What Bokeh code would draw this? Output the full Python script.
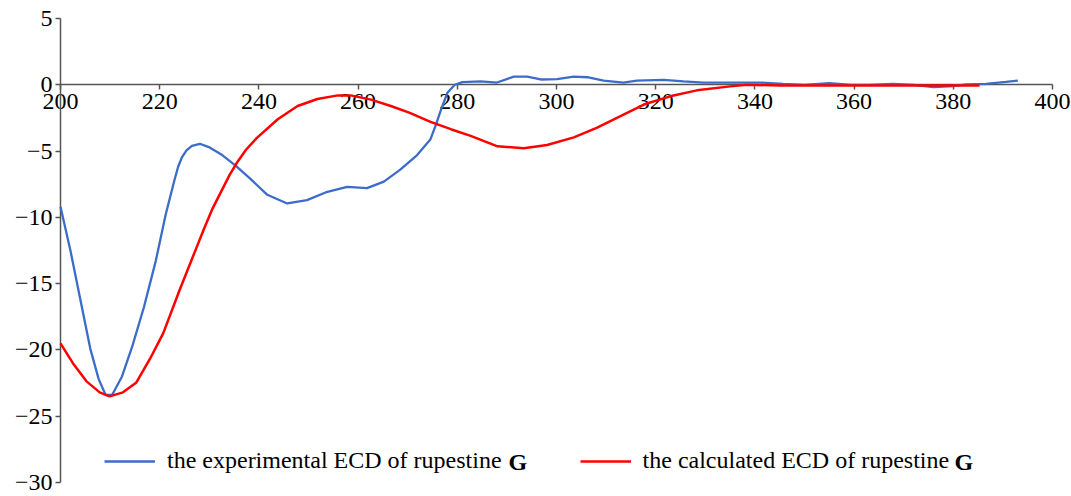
from bokeh.plotting import figure
from bokeh.models import FixedTicker, Legend, LegendItem, Label, Range1d
from bokeh.embed import file_html
from bokeh.resources import INLINE

# experimental ECD (blue)
exp_x = [200, 202, 204, 206, 207.7, 209.1, 210.4, 212.4, 214.5, 216.8, 219.2, 221.2,
         222.9, 223.7, 224.5, 225.4, 226.5, 228.1, 229.9, 232.6, 235.3, 238.3, 241.7, 245.7, 249.7,
         253.8, 257.8, 261.8, 265.2, 268.5, 271.9, 274.6, 275.7, 276.6, 278.0, 279.5,
         281, 284.7, 288, 291.4, 294.1, 296.8, 300.1, 303.5, 306.2, 309.5, 313.5, 316.2,
         321.6, 325.6, 329.6, 338.4, 341, 345.7, 350, 355, 359.4, 363, 367.9, 372, 376,
         380, 382.6, 386.6, 390.6, 393]
exp_y = [-9.2, -12.5, -16.2, -19.9, -22.2, -23.4, -23.4, -22.0, -19.7, -16.8, -13.3, -9.8,
         -7.3, -6.2, -5.45, -4.95, -4.6, -4.45, -4.7, -5.3, -6.1, -7.1, -8.3, -8.95, -8.7,
         -8.07, -7.7, -7.8, -7.3, -6.4, -5.3, -4.1, -3.0, -2.0, -0.6, 0.0,
         0.2, 0.25, 0.17, 0.62, 0.62, 0.4, 0.42, 0.62, 0.57, 0.32, 0.17, 0.32,
         0.37, 0.25, 0.17, 0.17, 0.17, 0.07, 0.0, 0.12, 0.0, 0.0, 0.07, 0.0, -0.17,
         -0.1, 0.03, 0.07, 0.22, 0.32]

# calculated ECD (red)
calc_x = [200, 202.5, 205.2, 207.9, 209.9, 212.6, 215.3, 218.0, 220.7, 224.0, 227.4, 229.0,
          230.7, 234.1, 235.7, 237.4, 239.6, 243.8, 247.8, 251.8, 255.9, 258.5, 262.6,
          266.6, 270.3, 274.6, 278.7, 282.7, 288.1, 293.4, 298.1, 303.5, 308.2, 312.9,
          317.6, 322.9, 328.3, 335, 338.4, 345, 355, 365, 375, 385.3]
calc_y = [-19.5, -21.0, -22.35, -23.2, -23.5, -23.2, -22.45, -20.7, -18.75, -15.5, -12.3, -10.8,
          -9.3, -6.8, -5.8, -4.9, -4.0, -2.6, -1.6, -1.07, -0.8, -0.8, -1.12,
          -1.6, -2.1, -2.8, -3.35, -3.85, -4.64, -4.79, -4.54, -3.97, -3.23, -2.36,
          -1.49, -0.87, -0.42, -0.12, 0.0, -0.05, -0.05, -0.05, -0.05, -0.05]

x_ticks = [200, 220, 240, 260, 280, 300, 320, 340, 360, 380, 400]
y_ticks = [5, 0, -5, -10, -15, -20, -25, -30]
y_tick_labels = ["5", "0", "\u22125", "\u221210", "\u221215", "\u221220", "\u221225", "\u221230"]

exp_label = "the experimental ECD of rupestine"
calc_label = "the calculated ECD of rupestine"
bold_suffix = "G"

FONT = "Liberation Serif"
AXIS_COLOR = "#555555"

W, H = 1071, 496
# pixel placement of the axes box (x 200..400, y 5..-30)
LEFT_PX, RIGHT_PX, TOP_PX, BOTTOM_PX = 60, 1052, 18, 482
X0, X1, Y1, Y0 = 200, 400, 5, -30
kx = (RIGHT_PX - LEFT_PX) / (X1 - X0)
ky = (BOTTOM_PX - TOP_PX) / (Y1 - Y0)
x_range = Range1d(X0 - LEFT_PX / kx, X1 + (W - RIGHT_PX) / kx)
y_range = Range1d(Y0 - (H - BOTTOM_PX) / ky, Y1 + TOP_PX / ky)

p = figure(width=W, height=H, output_backend="svg", toolbar_location=None,
           x_range=x_range, y_range=y_range,
           min_border_left=0, min_border_right=0, min_border_top=0, min_border_bottom=0)
p.outline_line_color = None
p.grid.visible = False
p.background_fill_color = "white"

r_exp = p.line(exp_x, exp_y, line_color="#3b6cc8", line_width=2.3, level="annotation")
r_calc = p.line(calc_x, calc_y, line_color="#ff0000", line_width=2.5, level="annotation")

for ax, ticks, loc, bounds in ((p.xaxis[0], x_ticks, 0, (X0, X1)),
                               (p.yaxis[0], y_ticks, X0, (Y0, Y1))):
    ax.fixed_location = loc
    ax.bounds = bounds
    ax.ticker = FixedTicker(ticks=ticks)
    ax.minor_tick_line_color = None
    ax.major_tick_in = 0
    ax.major_tick_out = 5
    ax.axis_line_color = AXIS_COLOR
    ax.axis_line_width = 1.5
    ax.major_tick_line_color = AXIS_COLOR
    ax.major_tick_line_width = 1.5
    ax.major_label_text_font = FONT
    ax.major_label_text_font_size = "24px"
    ax.major_label_text_color = "black"

p.xaxis[0].major_label_standoff = 4
p.yaxis[0].major_label_standoff = 3
p.yaxis[0].major_label_overrides = {t: s for t, s in zip(y_ticks, y_tick_labels)}

LEG_Y = 461  # vertical centre of the legend row, in pixels from the top
legend = Legend(items=[LegendItem(label=exp_label, renderers=[r_exp]),
                       LegendItem(label=calc_label, renderers=[r_calc])],
                orientation="horizontal", location=(104, H - LEG_Y - 13),
                glyph_width=51, glyph_height=26, label_height=26,
                label_standoff=12, spacing=78, padding=0, margin=0,
                border_line_alpha=0, background_fill_alpha=0,
                label_text_font=FONT, label_text_font_size="24px",
                label_text_color="black")
p.add_layout(legend)

for gx in (508, 954):
    p.add_layout(Label(x=gx, y=H - LEG_Y, x_units="screen", y_units="screen", text=bold_suffix,
                       text_font=FONT, text_font_size="24px", text_font_style="bold",
                       text_baseline="middle", text_color="black"))

open("out.html", "w").write(file_html(p, INLINE))
